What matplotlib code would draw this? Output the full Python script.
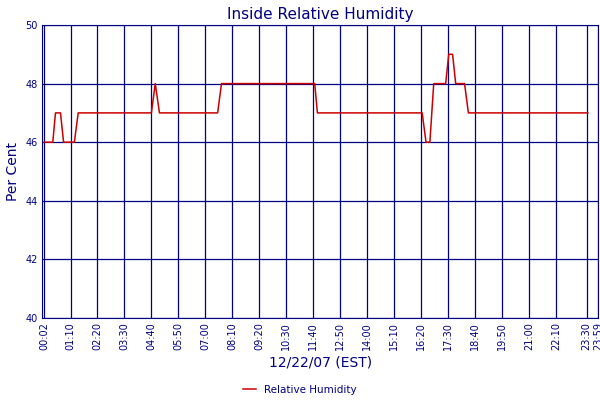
import matplotlib
matplotlib.use("Agg")
import matplotlib.pyplot as plt

# time (minutes after midnight) and humidity (%)
minutes = [2, 24, 31, 44, 52, 80, 90, 280, 290, 301, 452, 462, 704, 711, 983, 993, 1003, 1013,
           1044, 1052, 1062, 1070, 1093, 1103, 1413]
humidity = [46, 46, 47, 47, 46, 46, 47, 47, 48, 47, 47, 48, 48, 47, 47, 46, 46, 48,
            48, 49, 49, 48, 48, 47, 47]
tick_minutes = [2] + [70 * k for k in range(1, 20)] + [1410, 1439]
tick_labels = ["00:02", "01:10", "02:20", "03:30", "04:40", "05:50", "07:00", "08:10", "09:20",
               "10:30", "11:40", "12:50", "14:00", "15:10", "16:20", "17:30", "18:40", "19:50",
               "21:00", "22:10", "23:30", "23:59"]
y_ticks = [40, 42, 44, 46, 48, 50]

navy = "#000080"
fig = plt.figure(figsize=(6, 4), dpi=100)
ax = fig.add_axes([0.07, 0.205, 0.927, 0.7325])
ax.plot(minutes, humidity, color="#cc0000", lw=1.1, label="Relative Humidity")
ax.set_xlim(-4, 1440)
ax.set_ylim(40, 50)
ax.set_xticks(tick_minutes)
ax.set_xticklabels(tick_labels, rotation=90, fontsize=7, color=navy)
ax.set_yticks(y_ticks)
ax.set_yticklabels([str(v) for v in y_ticks], fontsize=7, color=navy)
ax.tick_params(length=0, pad=3)
ax.grid(True, color=navy, lw=0.9)
for s in ax.spines.values():
    s.set_color(navy)
ax.set_title("Inside Relative Humidity", color=navy, fontsize=11, pad=4)
ax.set_ylabel("Per Cent", color=navy, fontsize=10)
ax.set_xlabel("12/22/07 (EST)", color=navy, fontsize=10, labelpad=4)
fig.legend(loc="lower center", bbox_to_anchor=(0.5, -0.01), frameon=False, fontsize=7.5,
           labelcolor=navy, handlelength=1.2)
fig.savefig("out.png", dpi=100)
